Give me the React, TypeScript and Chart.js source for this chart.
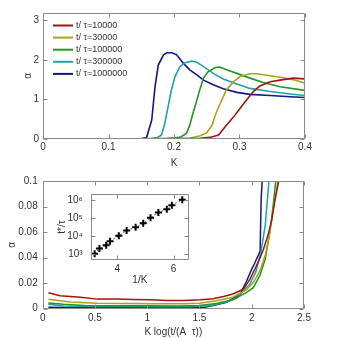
import React, { useEffect, useRef } from 'react';
import { Chart, registerables } from 'chart.js';

Chart.register(...registerables);

const FONT = '"Liberation Sans", Arial, Helvetica, sans-serif';
const TEXT = '#333333';
const FRAME = '#8c8c8c';

// ---------- series meta ----------
const seriesLabels = ['t/ τ=10000', 't/ τ=30000', 't/ τ=100000', 't/ τ=300000', 't/ τ=1000000'];
const seriesColors = ['#a31414', '#aaa21e', '#1f9a1f', '#1fa3a6', '#10188f'];

// ---------- top panel: alpha vs K ----------
const kRed = [0.005, 0.1, 0.2, 0.24, 0.255, 0.268, 0.28, 0.291, 0.301, 0.311, 0.321, 0.331, 0.347, 0.362, 0.382, 0.4];
const aRed = [0, 0, 0.01, 0.02, 0.04, 0.1, 0.35, 0.56, 0.78, 0.99, 1.2, 1.34, 1.45, 1.49, 1.54, 1.52];

const kOlive = [0.005, 0.1, 0.2, 0.224, 0.24, 0.25, 0.258, 0.265, 0.273, 0.28, 0.291, 0.301, 0.316, 0.326, 0.347, 0.367, 0.387, 0.4];
const aOlive = [0, 0, 0.01, 0.02, 0.08, 0.16, 0.35, 0.69, 0.99, 1.24, 1.45, 1.58, 1.65, 1.65, 1.6, 1.55, 1.48, 1.41];

const kGreen = [0.005, 0.1, 0.19, 0.209, 0.219, 0.224, 0.229, 0.235, 0.24, 0.245, 0.252, 0.263, 0.27, 0.28, 0.296, 0.316, 0.336, 0.362, 0.4];
const aGreen = [0, 0, 0.01, 0.04, 0.14, 0.35, 0.65, 0.99, 1.28, 1.54, 1.7, 1.81, 1.82, 1.75, 1.66, 1.54, 1.43, 1.32, 1.23];

const kTeal = [0.005, 0.1, 0.165, 0.175, 0.181, 0.186, 0.191, 0.196, 0.2015, 0.209, 0.217, 0.227, 0.235, 0.245, 0.26, 0.275, 0.296, 0.316, 0.347, 0.377, 0.4];
const aTeal = [0, 0, 0.01, 0.04, 0.1, 0.4, 0.82, 1.24, 1.58, 1.83, 1.93, 1.97, 1.94, 1.83, 1.66, 1.52, 1.39, 1.28, 1.2, 1.14, 1.1];

const kBlue = [0.005, 0.1, 0.15, 0.158, 0.166, 0.171, 0.176, 0.184, 0.189, 0.197, 0.204, 0.214, 0.224, 0.235, 0.245, 0.26, 0.275, 0.296, 0.316, 0.347, 0.377, 0.4];
const aBlue = [0, 0, 0.01, 0.03, 0.48, 1.32, 1.87, 2.13, 2.18, 2.18, 2.13, 1.92, 1.75, 1.62, 1.49, 1.37, 1.27, 1.18, 1.13, 1.1, 1.07, 1.05];

// ---------- bottom panel: alpha vs K log(t/(A tau)) ----------
const xRedB = [0.054, 0.166, 0.36, 0.52, 0.71, 0.87, 1.03, 1.19, 1.35, 1.51, 1.63, 1.73, 1.82, 1.92, 1.98, 2.03, 2.075, 2.11, 2.16, 2.19, 2.22, 2.258];
const yRedB = [0.0125, 0.0102, 0.009, 0.0075, 0.0076, 0.0073, 0.007, 0.0065, 0.0064, 0.007, 0.0078, 0.0095, 0.0115, 0.0152, 0.0227, 0.031, 0.039, 0.046, 0.059, 0.069, 0.084, 0.1];

const xOliveB = [0.054, 0.26, 0.52, 0.8, 1.1, 1.35, 1.5, 1.66, 1.82, 1.95, 2.02, 2.08, 2.13, 2.175, 2.21, 2.25];
const yOliveB = [0.0074, 0.0052, 0.0042, 0.004, 0.0038, 0.0038, 0.0042, 0.0062, 0.009, 0.015, 0.021, 0.03, 0.042, 0.061, 0.08, 0.1];

const xGreenB = [0.054, 0.2, 0.4, 0.7, 1.0, 1.3, 1.5, 1.66, 1.82, 1.95, 2.015, 2.08, 2.13, 2.175, 2.205, 2.23];
const yGreenB = [0.0045, 0.0034, 0.0026, 0.0024, 0.0023, 0.0022, 0.0025, 0.004, 0.007, 0.0127, 0.0165, 0.0265, 0.039, 0.061, 0.081, 0.1];

const xTealB = [0.054, 0.2, 0.5, 0.8, 1.1, 1.4, 1.6, 1.75, 1.86, 1.98, 2.04, 2.09, 2.13, 2.15, 2.165];
const yTealB = [0.0035, 0.0022, 0.0018, 0.0017, 0.0016, 0.0016, 0.0024, 0.005, 0.0085, 0.019, 0.029, 0.045, 0.066, 0.086, 0.1];

const xBlueB = [0.054, 0.2, 0.5, 0.8, 1.1, 1.4, 1.55, 1.63, 1.76, 1.89, 1.95, 2.0, 2.03, 2.08, 2.09, 2.1];
const yBlueB = [0.0012, 0.001, 0.0009, 0.0009, 0.0009, 0.0009, 0.0012, 0.0025, 0.005, 0.0115, 0.0215, 0.031, 0.036, 0.045, 0.086, 0.1];

// ---------- inset: t*/tau vs 1/K ----------
const invK = [3.19, 3.36, 3.6, 3.74, 4.05, 4.33, 4.65, 4.92, 5.18, 5.46, 5.76, 5.94, 6.31];
const tStar = [1e3, 2e3, 3e3, 5e3, 1e4, 2e4, 3e4, 5e4, 1e5, 2e5, 3e5, 5e5, 1e6];

// ---------- ticks ----------
const topXTicks = [0, 0.1, 0.2, 0.3, 0.4];
const topYTicks = [0, 1, 2, 3];
const botXTicks = [0, 0.5, 1, 1.5, 2, 2.5];
const botYTicks = [0, 0.02, 0.04, 0.06, 0.08, 0.1];
const insetXTicks = [4, 6];
const insetYTicks = [1e3, 1e4, 1e5, 1e6];

const SUP: Record<string, string> = { '0': '⁰', '1': '¹', '2': '²', '3': '³', '4': '⁴', '5': '⁵', '6': '⁶', '7': '⁷', '8': '⁸', '9': '⁹' };

const pts = (xs: number[], ys: number[]) => xs.map((x, i) => ({ x, y: ys[i] }));

const topSeries = [
  pts(kRed, aRed), pts(kOlive, aOlive), pts(kGreen, aGreen), pts(kTeal, aTeal), pts(kBlue, aBlue),
];
const botSeries = [
  pts(xRedB, yRedB), pts(xOliveB, yOliveB), pts(xGreenB, yGreenB), pts(xTealB, yTealB), pts(xBlueB, yBlueB),
];

const boxPlugin = {
  id: 'boxTicks',
  afterDatasetsDraw(chart: any) {
    const { ctx, chartArea: a } = chart;
    const xs = chart.scales.x;
    const ys = chart.scales.y;
    const len = 4;
    const L = Math.round(a.left) + 0.5;
    const R = Math.round(a.right) - 0.5;
    const T = Math.round(a.top) + 0.5;
    const B = Math.round(a.bottom) - 0.5;
    ctx.save();
    ctx.strokeStyle = FRAME;
    ctx.lineWidth = 1;
    ctx.beginPath();
    ctx.rect(L, T, R - L, B - T);
    xs.ticks.forEach((t: any) => {
      const p = Math.round(xs.getPixelForValue(t.value)) + 0.5;
      ctx.moveTo(p, B); ctx.lineTo(p, B - len);
      ctx.moveTo(p, T); ctx.lineTo(p, T + len);
    });
    ys.ticks.forEach((t: any) => {
      const p = Math.round(ys.getPixelForValue(t.value)) + 0.5;
      ctx.moveTo(L, p); ctx.lineTo(L + len, p);
      ctx.moveTo(R, p); ctx.lineTo(R - len, p);
    });
    ctx.stroke();
    ctx.restore();
  },
};

const legendPlugin = {
  id: 'innerLegend',
  afterDraw(chart: any) {
    const { ctx, chartArea: a } = chart;
    ctx.save();
    ctx.font = `9px ${FONT}`;
    ctx.textBaseline = 'middle';
    ctx.textAlign = 'left';
    chart.data.datasets.forEach((ds: any, i: number) => {
      const y = a.top + 13 + i * 12.1;
      ctx.strokeStyle = ds.borderColor;
      ctx.lineWidth = 2;
      ctx.beginPath();
      ctx.moveTo(a.left + 10, y);
      ctx.lineTo(a.left + 30, y);
      ctx.stroke();
      ctx.fillStyle = TEXT;
      ctx.fillText(ds.label, a.left + 33, y);
    });
    ctx.restore();
  },
};

function linAxis(opts: {
  min: number; max: number; ticks: number[]; fmt: (v: number) => string;
  size: number; horizontal: boolean; pad: number; title?: string; titlePad?: any; type?: string;
}) {
  return {
    type: opts.type || 'linear',
    min: opts.min,
    max: opts.max,
    afterBuildTicks: (s: any) => { s.ticks = opts.ticks.map((v) => ({ value: v })); },
    afterFit: (s: any) => { if (opts.horizontal) s.height = opts.size; else s.width = opts.size; },
    grid: { display: false, drawTicks: false },
    border: { display: false },
    ticks: {
      padding: opts.pad,
      color: TEXT,
      font: { size: 10, family: FONT },
      maxRotation: 0,
      autoSkip: false,
      callback: (v: any) => opts.fmt(Number(v)),
    },
    title: {
      display: !!opts.title,
      text: opts.title || '',
      color: TEXT,
      font: { size: 10, family: FONT },
      padding: opts.titlePad || 0,
    },
  };
}

const baseOpts = {
  responsive: false,
  animation: false as const,
  events: [] as any[],
  plugins: { legend: { display: false }, tooltip: { enabled: false } },
};

export default function App() {
  const topRef = useRef<HTMLCanvasElement>(null);
  const botRef = useRef<HTMLCanvasElement>(null);
  const insRef = useRef<HTMLCanvasElement>(null);

  useEffect(() => {
    Chart.defaults.font.family = FONT;
    const charts: Chart[] = [];

    charts.push(new Chart(topRef.current!, {
      type: 'line',
      data: {
        datasets: topSeries.map((d, i) => ({
          label: seriesLabels[i], data: d, borderColor: seriesColors[i], backgroundColor: seriesColors[i],
          borderWidth: 1.6, pointRadius: 0, tension: 0, fill: false,
        })),
      },
      options: {
        ...baseOpts,
        layout: { padding: { left: 0, right: 33, top: 12.5, bottom: 0 } },
        scales: {
          x: linAxis({ min: 0, max: 0.4, ticks: topXTicks, fmt: (v) => (v === 0 ? '0' : v.toFixed(1)), size: 31, horizontal: true, pad: 2, title: 'K', titlePad: { top: 0, bottom: 1 } }),
          y: linAxis({ min: 0, max: 3.2, ticks: topYTicks, fmt: (v) => String(v), size: 43, horizontal: false, pad: 4, title: 'α', titlePad: { top: 22, bottom: 0 } }),
        },
      } as any,
      plugins: [boxPlugin, legendPlugin],
    }));

    charts.push(new Chart(botRef.current!, {
      type: 'line',
      data: {
        datasets: botSeries.map((d, i) => ({
          label: seriesLabels[i], data: d, borderColor: seriesColors[i], backgroundColor: seriesColors[i],
          borderWidth: 1.5, pointRadius: 0, tension: 0, fill: false,
        })),
      },
      options: {
        ...baseOpts,
        layout: { padding: { left: 0, right: 34, top: 5, bottom: 0 } },
        scales: {
          x: linAxis({ min: 0, max: 2.5, ticks: botXTicks, fmt: (v) => String(v), size: 29.3, horizontal: true, pad: 4, title: 'K log(t/(A  τ))', titlePad: { top: 0, bottom: 0 } }),
          y: linAxis({ min: 0, max: 0.1, ticks: botYTicks, fmt: (v) => (v === 0 ? '0' : Math.abs(v - 0.1) < 1e-9 ? '0.1' : v.toFixed(2)), size: 42.7, horizontal: false, pad: 5, title: 'α', titlePad: { top: 6, bottom: 0 } }),
        },
      } as any,
      plugins: [boxPlugin],
    }));

    charts.push(new Chart(insRef.current!, {
      type: 'line',
      data: {
        datasets: [{
          label: 't*/τ', data: pts(invK, tStar), borderColor: '#444444', backgroundColor: '#000000',
          borderWidth: 0.8, borderDash: [2, 2], tension: 0, fill: false,
          pointStyle: 'cross', pointRadius: 3.5, pointBorderWidth: 2, pointBorderColor: '#000000',
        }],
      },
      options: {
        ...baseOpts,
        layout: { padding: { left: 0, right: 6, top: 8, bottom: 0 } },
        scales: {
          x: linAxis({ min: 3.05, max: 6.55, ticks: insetXTicks, fmt: (v) => String(v), size: 28, horizontal: true, pad: 3, title: '1/K', titlePad: { top: 0, bottom: 2 } }),
          y: linAxis({ type: 'logarithmic', min: 457, max: 2.09e6, ticks: insetYTicks, fmt: (v) => '10' + String(Math.round(Math.log10(v))).split('').map((c) => SUP[c]).join(''), size: 50.7, horizontal: false, pad: 8, title: 't*/τ', titlePad: { top: 16, bottom: 0 } }),
        },
      } as any,
      plugins: [boxPlugin],
    }));

    return () => { charts.forEach((c) => c.destroy()); };
  }, []);

  return (
    <div style={{ position: 'fixed', left: 0, top: 0, width: 338, height: 338, background: '#ffffff' }}>
      <canvas ref={topRef} width={338} height={170} style={{ position: 'absolute', left: 0, top: 0, display: 'block' }} />
      <canvas ref={botRef} width={338} height={168} style={{ position: 'absolute', left: 0, top: 170, display: 'block' }} />
      <canvas ref={insRef} width={155} height={108} style={{ position: 'absolute', left: 40, top: 180, display: 'block' }} />
    </div>
  );
}
